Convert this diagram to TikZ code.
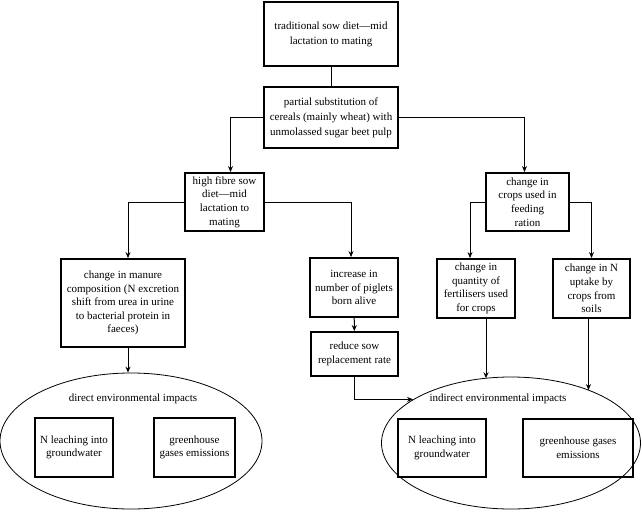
\documentclass[tikz,border=0pt]{standalone}
\usepackage{fontspec}
\setmainfont{Liberation Serif}
\usetikzlibrary{shapes.geometric,arrows.meta}
\begin{document}
\begin{tikzpicture}[x=1pt,y=-1pt,
  box/.style={draw,line width=1.8pt,align=center,inner sep=1pt,font=\fontsize{11}{13.6}\selectfont},
  wide/.style={font=\fontsize{11}{15}\selectfont},
  oval/.style={draw,ellipse,line width=0.8pt,inner sep=0pt},
  lbl/.style={align=center,font=\fontsize{11}{13.6}\selectfont},
  arr/.style={line width=1pt,-{Stealth[length=6pt,width=5pt]}},
  ln/.style={line width=1pt}]
\useasboundingbox (0,0) rectangle (642,514);
\node[box,wide,minimum width=134pt,minimum height=64pt] (top) at (331,34) {traditional sow diet—mid\\lactation to mating};
\node[box,wide,minimum width=134pt,minimum height=61pt] (part) at (331,117.5) {partial substitution of\\cereals (mainly wheat) with\\unmolassed sugar beet pulp};
\node[box,minimum width=79pt,minimum height=58pt] (fibre) at (224.5,202) {high fibre sow\\diet—mid\\lactation to\\mating};
\node[box,minimum width=83pt,minimum height=58pt] (crops) at (527.5,202) {change in\\crops used in\\feeding\\ration};
\node[box,minimum width=124pt,minimum height=88pt] (manure) at (123,303) {change in manure\\composition (N excretion\\shift from urea in urine\\to bacterial protein in\\faeces)};
\node[box,minimum width=88pt,minimum height=59pt] (incr) at (354,287.5) {increase in\\number of piglets\\born alive};
\node[box,minimum width=87pt,minimum height=44pt] (reduce) at (354.5,354) {reduce sow\\replacement rate};
\node[box,minimum width=78pt,minimum height=59pt] (quant) at (476,288.5) {change in\\quantity of\\fertilisers used\\for crops};
\node[box,minimum width=77pt,minimum height=59pt] (uptake) at (591.5,288.5) {change in N\\uptake by\\crops from\\soils};
\node[oval,minimum width=262pt,minimum height=136pt] (del) at (131,441) {};
\node[oval,minimum width=259pt,minimum height=132pt] (iel) at (511,443) {};
\node[lbl] (dlab) at (133,399) {direct environmental impacts};
\node[lbl] (ilab) at (498,399) {indirect environmental impacts};
\node[box,minimum width=78pt,minimum height=59pt] (dn) at (74,447.5) {N leaching into\\groundwater};
\node[box,minimum width=81pt,minimum height=59pt] (dg) at (194.5,447.5) {greenhouse\\gases emissions};
\node[box,minimum width=88pt,minimum height=58pt] (in) at (442,448) {N leaching into\\groundwater};
\node[box,minimum width=110pt,minimum height=58pt] (ig) at (578,448) {greenhouse gases\\emissions};
\draw[ln] (top) -- (part);
\draw[arr] (part.west) -| ([xshift=6pt]fibre.north);
\draw[arr] (part.east) -| ([xshift=-3pt]crops.north);
\draw[arr] (fibre.west) -| ([xshift=5pt]manure.north);
\draw[arr] (fibre.east) -| ([xshift=-3pt]incr.north);
\draw[arr] (crops.west) -| ([xshift=-6pt]quant.north);
\draw[arr] (crops.east) -| (uptake.north);
\draw[arr] (incr) -- (reduce);
\draw[arr] ([xshift=5pt]manure.south) -- ([xshift=5pt]manure.south |- del.north);
\draw[arr] (reduce.south) |- (iel.156);
\draw[arr] ([xshift=10pt]quant.south) -- ([xshift=10pt]quant.south |- iel.114);
\draw[arr] ([xshift=-3pt]uptake.south) -- ([xshift=-3pt]uptake.south |- iel.34);
\end{tikzpicture}
\end{document}
